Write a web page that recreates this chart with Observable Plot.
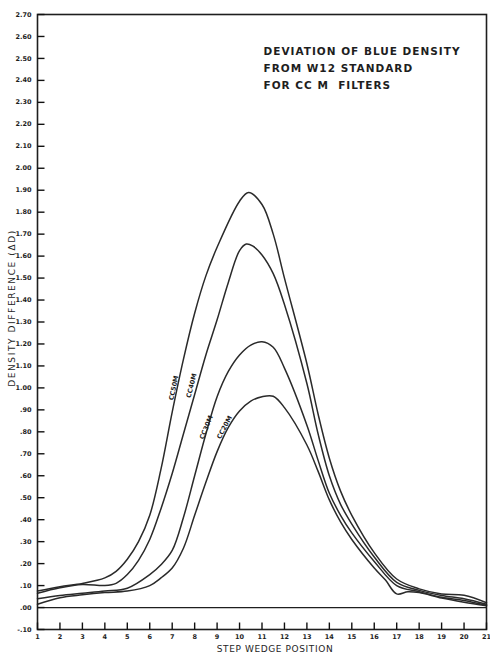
<!DOCTYPE html>
<html><head><meta charset="utf-8">
<script src="https://cdn.jsdelivr.net/npm/d3@7"></script>
<script src="https://cdn.jsdelivr.net/npm/@observablehq/plot@0.6"></script>
<style>
body{margin:0;background:#fff;}
.title text{letter-spacing:1px;}
.ylab text{letter-spacing:1.6px;}
.xlab text{letter-spacing:0.6px;}
</style>
</head><body><div id="chart"></div>
<script>
// Step wedge positions and density differences
const cc50x = [1,2,3,4,4.5,5,5.5,6,6.5,7,7.5,8,8.5,9,10,10.4,11,11.5,12,13,13.5,14,14.5,15,16,17,18,19,20,21];
const cc50y = [0.075,0.095,0.11,0.135,0.165,0.22,0.30,0.42,0.63,0.89,1.13,1.34,1.51,1.64,1.85,1.89,1.835,1.70,1.50,1.11,0.88,0.68,0.53,0.42,0.25,0.13,0.085,0.062,0.056,0.022];

const cc40x = [1,2,3,4,4.5,5,5.5,6,6.5,7,7.5,8,8.5,9,9.5,10,10.3,10.6,11,11.5,12,13,13.5,14,14.5,15,16,17,18,19,20,21];
const cc40y = [0.065,0.09,0.105,0.10,0.11,0.15,0.215,0.31,0.45,0.61,0.79,0.97,1.15,1.31,1.48,1.625,1.655,1.645,1.605,1.52,1.38,1.02,0.79,0.60,0.47,0.38,0.23,0.115,0.078,0.055,0.04,0.015];

const cc30x = [1,2,3,4,5,6,6.5,7,7.5,8,8.5,9,9.5,10,10.5,11,11.5,12,13,13.5,14,14.5,15,16,17,18,19,20,21];
const cc30y = [0.04,0.055,0.065,0.075,0.088,0.15,0.195,0.26,0.41,0.60,0.79,0.96,1.075,1.15,1.195,1.21,1.185,1.09,0.83,0.67,0.52,0.42,0.34,0.21,0.10,0.072,0.047,0.032,0.01];

const cc20x = [1,2,3,4,5,6,6.5,7,7.5,8,8.5,9,9.5,10,10.5,11,11.5,12,13,13.5,14,14.5,15,16,16.5,17,17.5,18,19,20,21];
const cc20y = [0.015,0.045,0.058,0.068,0.075,0.10,0.135,0.18,0.27,0.42,0.57,0.71,0.82,0.895,0.94,0.96,0.962,0.91,0.74,0.62,0.49,0.39,0.31,0.18,0.125,0.062,0.072,0.068,0.043,0.024,0.008];

const seriesNames = ["CC50M","CC40M","CC30M","CC20M"];
const labelX = [7.07, 7.86, 8.52, 9.33];
const labelY = [1.00, 1.01, 0.82, 0.82];

const xTicks = [1,2,3,4,5,6,7,8,9,10,11,12,13,14,15,16,17,18,19,20,21];
const yTicks = [-0.1,0,0.1,0.2,0.3,0.4,0.5,0.6,0.7,0.8,0.9,1.0,1.1,1.2,1.3,1.4,1.5,1.6,1.7,1.8,1.9,2.0,2.1,2.2,2.3,2.4,2.5,2.6,2.7];
const yTickLabels = ["-.10",".00",".10",".20",".30",".40",".50",".60",".70",".80",".90","1.00","1.10","1.20","1.30","1.40","1.50","1.60","1.70","1.80","1.90","2.00","2.10","2.20","2.30","2.40","2.50","2.60","2.70"];

const titleText = "DEVIATION OF BLUE DENSITY\nFROM W12 STANDARD\nFOR CC M  FILTERS";
const xLabel = "STEP WEDGE POSITION";
const yLabel = "DENSITY DIFFERENCE (ΔD)";

const xs = [cc50x, cc40x, cc30x, cc20x];
const ys = [cc50y, cc40y, cc30y, cc20y];
const rows = seriesNames.flatMap((s, k) => xs[k].map((x, i) => ({series: s, x, y: ys[k][i]})));
const labels = seriesNames.map((s, i) => ({name: s, x: labelX[i], y: labelY[i]}));
const rotations = {"CC50M": -78, "CC40M": -76, "CC30M": -68, "CC20M": -62};
const yLabelMap = new Map(yTicks.map((v, i) => [v, yTickLabels[i]]));

const W = 490, H = 653, mL = 37, mR = 4, mT = 14, mB = 24;
const xDomain = [1, 21], yDomain = [-0.1, 2.7];
const frameW = W - mL - mR, frameH = H - mT - mB;
// tick lengths in pixels converted to data units
const yTickLen = 7 * (xDomain[1] - xDomain[0]) / frameW;
const xTickLen = 7 * (yDomain[1] - yDomain[0]) / frameH;
const tickRowsY = yTicks.map(v => ({y: v, x1: xDomain[0], x2: xDomain[0] + yTickLen}));
const tickRowsX = xTicks.map(v => ({x: v, y1: yDomain[0], y2: yDomain[0] + xTickLen}));
const ink = "#1e1e1e";
const plot = Plot.plot({
  width: W, height: H,
  marginLeft: mL, marginRight: mR, marginTop: mT, marginBottom: mB,
  x: {domain: xDomain},
  y: {domain: yDomain},
  style: {fontFamily: "DejaVu Sans", background: "#fff", color: ink},
  marks: [
    Plot.ruleY([0], {stroke: ink, strokeWidth: 1.3}),
    Plot.line(rows, {x: "x", y: "y", z: "series", stroke: "#2a2a2a", strokeWidth: 1.5, curve: "catmull-rom"}),
    Plot.axisY({ticks: yTicks, tickSize: 0, tickPadding: 6, tickFormat: d => yLabelMap.get(d), fontSize: 6.5, fontWeight: "bold", label: null}),
    Plot.axisX({ticks: xTicks, tickSize: 0, tickPadding: 5, tickFormat: d => String(d), fontSize: 6.5, fontWeight: "bold", label: null}),
    Plot.frame({stroke: ink, strokeWidth: 1.6}),
    Plot.link(tickRowsY, {x1: "x1", x2: "x2", y1: "y", y2: "y", stroke: "#111", strokeWidth: 1.4}),
    Plot.link(tickRowsX, {x1: "x", x2: "x", y1: "y1", y2: "y2", stroke: "#111", strokeWidth: 1.4}),
    Plot.text(labels, {x: "x", y: "y", text: "name", rotate: d => rotations[d.name], fontSize: 6.5, fontWeight: "bold", fill: ink}),
    Plot.text([titleText], {frameAnchor: "top-left", dx: 226, dy: 29, text: d => d, textAnchor: "start", lineAnchor: "top", lineHeight: 1.6, fontSize: 10.5, fontWeight: "bold", fill: ink, className: "title"}),
    Plot.text([xLabel], {frameAnchor: "bottom", dx: 13, dy: 22, lineAnchor: "bottom", text: d => d, fontSize: 9, fill: ink, className: "xlab"}),
    Plot.text([yLabel], {frameAnchor: "left", dx: -25, dy: -14, rotate: -90, textAnchor: "middle", text: d => d, fontSize: 9, fill: ink, className: "ylab"})
  ]
});
document.getElementById("chart").appendChild(plot);
</script>
</body></html>
